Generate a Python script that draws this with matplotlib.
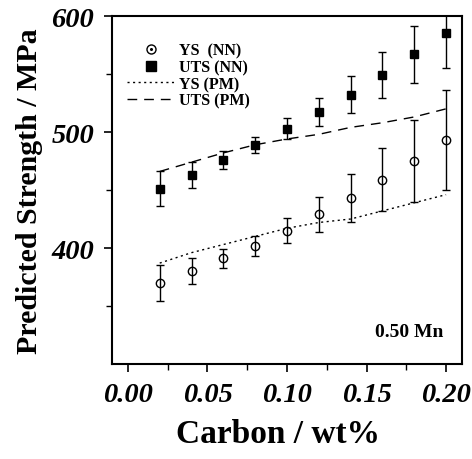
import numpy as np
import matplotlib
matplotlib.use("Agg")
import matplotlib.pyplot as plt
from matplotlib.lines import Line2D

# carbon content (wt%)
carbon = [0.02, 0.04, 0.06, 0.08, 0.10, 0.12, 0.14, 0.16, 0.18, 0.20]

# neural network predictions with error bars
ys_nn = [370, 380, 391, 402, 415, 429, 443, 459, 475, 493]
ys_nn_err = [15.5, 11, 8.5, 8.5, 11, 15, 20.5, 27, 35, 43]
uts_nn = [451, 463, 476, 489, 503, 517, 532, 549, 567, 585]
uts_nn_err = [15, 11, 7.5, 7, 9, 12, 16, 20, 24.5, 30]

# physical model predictions
ys_pm = [387, 396, 403, 410, 417, 422, 425, 432, 439, 446]
uts_pm = [466, 474, 482, 489, 494, 498, 504, 508, 513, 520]

xticks = [0.00, 0.05, 0.10, 0.15, 0.20]
yticks = [400, 500, 600]

plt.rcParams['font.family'] = ['Liberation Serif', 'DejaVu Serif']

fig = plt.figure(figsize=(4.72, 4.60), dpi=100)
ax = fig.add_axes([0.2373, 0.2065, 0.7415, 0.7565])

ax.errorbar(carbon, ys_nn, yerr=ys_nn_err, fmt='o', mfc='none', mec='black',
            ms=6, mew=1.0, ecolor='black', elinewidth=1.0, capsize=3, capthick=1.0)
ax.errorbar(carbon, uts_nn, yerr=uts_nn_err, fmt='s', mfc='black', mec='black',
            ms=6, ecolor='black', elinewidth=1.0, capsize=3, capthick=1.0)
ax.plot(carbon, ys_pm, color='black', linestyle=(0, (1.5, 2.5)), lw=1.0)
ax.plot(carbon, uts_pm, color='black', linestyle=(0, (7, 5)), lw=1.0)

ax.set_xlim(-0.01, 0.21)
ax.set_ylim(300, 600)
ax.set_xticks(xticks)
ax.set_xticklabels([f"{t:.2f}" for t in xticks])
ax.set_yticks(yticks)
ax.set_xticks(np.arange(0.025, 0.21, 0.05), minor=True)
ax.set_yticks([350, 450, 550], minor=True)

ax.tick_params(axis='both', which='major', direction='out', length=6, width=1.2,
               labelsize=20.5, pad=7)
ax.tick_params(axis='both', which='minor', direction='out', length=4, width=1.0)
for lab in ax.get_xticklabels() + ax.get_yticklabels():
    lab.set_fontweight('bold')
    lab.set_fontstyle('italic')

for sp in ax.spines.values():
    sp.set_linewidth(1.5)

ax.set_xlabel('Carbon / wt%', fontsize=24, fontweight='bold')
ax.xaxis.set_label_coords(0.474, -0.155)
ax.set_ylabel('Predicted Strength / MPa', fontsize=21.5, fontweight='bold', labelpad=6)

ax.text(0.1986, 328, '0.50 Mn', fontsize=14, fontweight='bold', ha='right', va='center')

# legend proxies: markers only, no error bars
h_ys_nn = (Line2D([], [], ls='none', marker='o', mfc='none', mec='black', ms=6.5, mew=1.0),
           Line2D([], [], ls='none', marker='o', mfc='black', mec='black', ms=1.2))
h_uts_nn = Line2D([], [], ls='none', marker='s', mfc='black', mec='black', ms=7)
h_ys_pm = Line2D([], [], color='black', linestyle=(0, (1.5, 2.5)), lw=1.0)
h_uts_pm = Line2D([], [], color='black', linestyle=(0, (7, 5)), lw=1.0)

ax.legend([h_ys_nn, h_uts_nn, h_ys_pm, h_uts_pm],
          ['YS  (NN)', 'UTS (NN)', 'YS (PM)', 'UTS (PM)'],
          loc='upper left', bbox_to_anchor=(0.043, 0.924), frameon=False,
          prop={'weight': 'bold', 'size': 11.5}, handlelength=3.0,
          handletextpad=0.25, labelspacing=0.05, borderaxespad=0, borderpad=0)

fig.savefig('out.png', dpi=100)
